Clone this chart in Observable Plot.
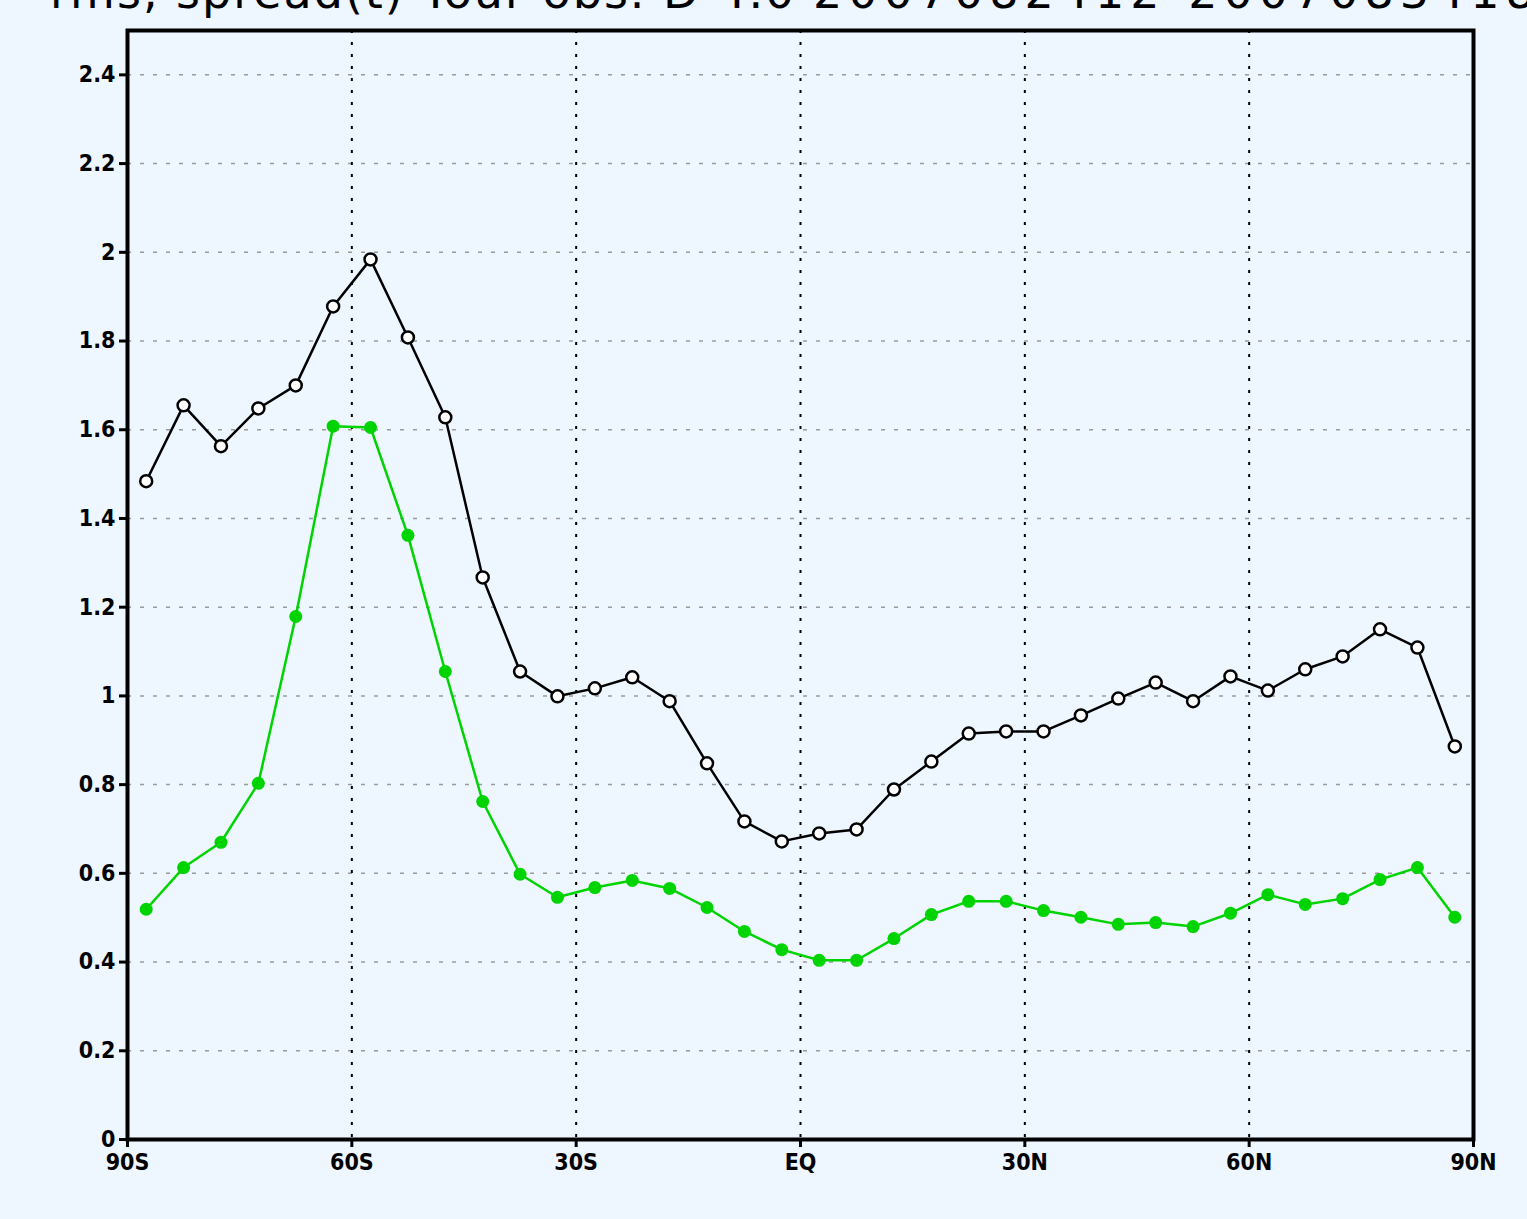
<!DOCTYPE html>
<html>
<head>
<meta charset="utf-8">
<script src="https://cdn.jsdelivr.net/npm/d3@7"></script>
<script src="https://cdn.jsdelivr.net/npm/@observablehq/plot@0.6"></script>
<style>
  html, body { margin: 0; padding: 0; background: #eef6ff; overflow: hidden; }
  #wrap { position: relative; width: 1527px; height: 1219px; }
  #title { position: absolute; left: 50px; top: -35px; white-space: nowrap;
           font-family: "DejaVu Sans", sans-serif; font-size: 46px; color: #000; letter-spacing: 2px; }
  #title .d { letter-spacing: 6px; }
  svg { display: block; }
</style>
</head>
<body>
<div id="wrap">
  <div id="title">rms, spread(t) Tour obs. D 4.0 <span class="d">2007082412-2007083418</span></div>
  <div id="chart"></div>
</div>
<script>
const lats = [-87.5,-82.5,-77.5,-72.5,-67.5,-62.5,-57.5,-52.5,-47.5,-42.5,-37.5,-32.5,-27.5,-22.5,-17.5,-12.5,-7.5,-2.5,
              2.5,7.5,12.5,17.5,22.5,27.5,32.5,37.5,42.5,47.5,52.5,57.5,62.5,67.5,72.5,77.5,82.5,87.5];
const rms = [1.484,1.655,1.563,1.648,1.700,1.878,1.984,1.808,1.628,1.267,1.055,0.999,1.017,1.042,0.988,0.848,0.717,0.672,
             0.690,0.699,0.789,0.852,0.915,0.920,0.920,0.956,0.994,1.030,0.988,1.044,1.012,1.060,1.089,1.150,1.109,0.886];
const spread = [0.519,0.613,0.670,0.803,1.179,1.608,1.605,1.362,1.055,0.762,0.598,0.546,0.568,0.584,0.566,0.523,0.469,0.428,
                0.404,0.404,0.453,0.507,0.537,0.537,0.516,0.501,0.485,0.489,0.480,0.510,0.552,0.530,0.543,0.586,0.613,0.501];
const xTicks = [-90,-60,-30,0,30,60,90];
const xTickLabels = ["90S","60S","30S","EQ","30N","60N","90N"];
const yTicks = [0,0.2,0.4,0.6,0.8,1,1.2,1.4,1.6,1.8,2,2.2,2.4];

const rmsData = lats.map((lat, i) => ({lat, v: rms[i]}));
const spreadData = lats.map((lat, i) => ({lat, v: spread[i]}));
const green = "#00d400";
const tickFont = "'DejaVu Sans Condensed', 'DejaVu Sans', sans-serif";

const chart = Plot.plot({
  width: 1527,
  height: 1219,
  marginLeft: 127,
  marginRight: 54,
  marginTop: 30,
  marginBottom: 80,
  style: { background: "#eef6ff", fontFamily: tickFont, fontWeight: "bold", fontSize: "23px", color: "#000" },
  x: { domain: [-90, 90] },
  y: { domain: [0, 2.5] },
  marks: [
    Plot.gridY(yTicks, { stroke: "#9a9a9a", strokeOpacity: 1, strokeWidth: 1.5, strokeDasharray: "4,9" }),
    Plot.gridX(xTicks.slice(1, -1), { stroke: "#000", strokeOpacity: 1, strokeWidth: 2, strokeDasharray: "3,9" }),
    Plot.frame({ stroke: "#000", strokeWidth: 4 }),
    Plot.axisY(yTicks, { tickSize: 8, tickPadding: 4, tickFormat: d => String(+d.toFixed(1)), strokeWidth: 3, label: null, fontSize: 23, fontWeight: "bold", fontFamily: tickFont }),
    Plot.axisX(xTicks, { tickSize: 8, tickPadding: 6, tickFormat: d => xTickLabels[xTicks.indexOf(d)], strokeWidth: 3, label: null, fontSize: 23, fontWeight: "bold", fontFamily: tickFont }),
    Plot.line(rmsData, { x: "lat", y: "v", stroke: "#000", strokeWidth: 2.5 }),
    Plot.dot(rmsData, { x: "lat", y: "v", r: 6, fill: "#fff", stroke: "#000", strokeWidth: 2.5 }),
    Plot.line(spreadData, { x: "lat", y: "v", stroke: green, strokeWidth: 2.5 }),
    Plot.dot(spreadData, { x: "lat", y: "v", r: 6.5, fill: green, stroke: "none" })
  ]
});
document.getElementById("chart").appendChild(chart);
</script>
</body>
</html>
